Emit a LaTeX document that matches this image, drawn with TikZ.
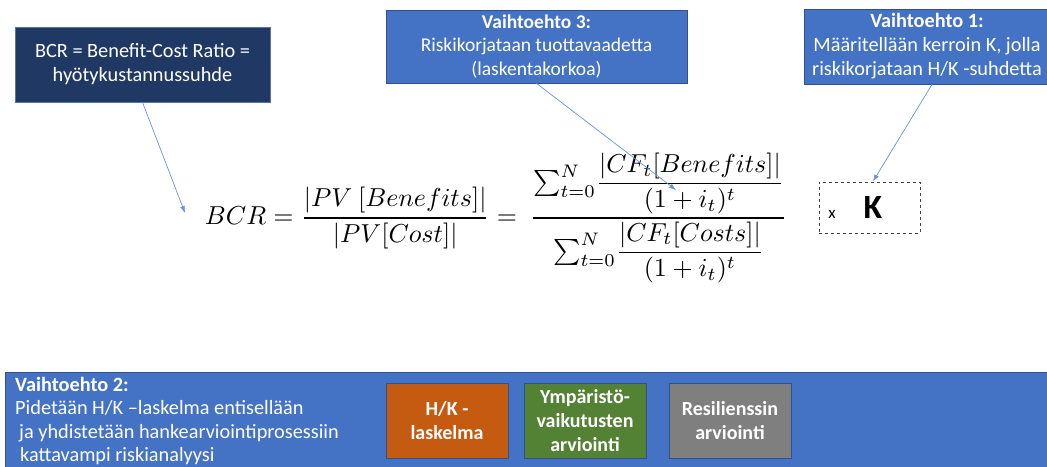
\documentclass[tikz,border=0pt]{standalone}
\usepackage{fontspec}
\setmainfont{Carlito}
\usepackage{amsmath}
\usetikzlibrary{arrows.meta}
\definecolor{navy}{HTML}{203864}
\definecolor{navyedge}{HTML}{5A74A8}
\definecolor{vblue}{HTML}{4472C4}
\definecolor{vedge}{HTML}{2F528F}
\definecolor{horange}{HTML}{C55A11}
\definecolor{hgreen}{HTML}{548235}
\definecolor{hgray}{HTML}{7F7F7F}
\definecolor{arrowblue}{HTML}{6A94DA}
\begin{document}
\begin{tikzpicture}[x=1pt,y=-1pt,
  box/.style={draw=vedge, line width=0.8pt, fill=vblue, text=white, align=center,
    inner sep=0pt, font=\fontsize{20.3}{24}\selectfont},
  inbox/.style={draw=vedge, line width=1pt, text=white, align=center,
    font=\bfseries\fontsize{20}{24}\selectfont, minimum width=122pt,
    minimum height=75pt, inner sep=0pt},
  pointer/.style={draw=arrowblue, line width=0.7pt, -{Latex[length=7pt,width=5pt]}}]
\clip (0,0) rectangle (1047,466);
\fill[white] (0,0) rectangle (1047,466);

% top boxes
\node[box, draw=navyedge, fill=navy, minimum width=255pt, minimum height=75pt] (bcr) at (142.5,64.5)
  {BCR = Benefit-Cost Ratio =\\hyötykustannussuhde};
\node[box, font=\fontsize{19.5}{23.5}\selectfont, minimum width=301pt, minimum height=73pt] (v3) at (536.5,46.5)
  {\textbf{Vaihtoehto 3:}\\Riskikorjataan tuottavaadetta\\(laskentakorkoa)};
\node[box, minimum width=246pt, minimum height=75pt] (v1) at (927,46.5)
  {\textbf{Vaihtoehto 1:}\\Määritellään kerroin K, jolla\\riskikorjataan H/K -suhdetta};

% formula
\node[inner sep=0pt] (formula) at (496,218) {\resizebox{582pt}{!}{$\displaystyle
  BCR=\frac{|PV\ [Benefits]|}{|PV[Cost]|}=\
  \frac{\sum_{t=0}^{N}\!\dfrac{|CF_t[Benefits]|}{(1+i_t)^t}}{\sum_{t=0}^{N}\!\dfrac{|CF_t[Costs]|}{(1+i_t)^t}}$}};

% K box
\node[draw=black!75, dashed, line width=1pt, minimum width=101pt, minimum height=51pt, inner sep=0pt] (kbox) at (869.5,207.5) {};
\node[inner sep=0pt, font=\fontsize{17}{17}\selectfont] (kx) at (832,214) {x};
\node[inner sep=0pt, font=\bfseries\fontsize{34}{34}\selectfont] (kk) at (873,207) {K};

% pointers
\coordinate (bcrtip) at (185,213);
\coordinate (v3tip) at (676,190);
\draw[pointer] (bcr.south) -- (bcrtip);
\draw[pointer] (v3.south) -- (v3tip);
\draw[pointer] ([xshift=5pt]v1.south) -- ([xshift=3.5pt]kbox.north);

% bottom band
\node[draw=vedge, line width=0.8pt, fill=vblue, minimum width=1060pt, minimum height=110pt, anchor=north west, inner sep=0pt] (v2) at (5,372) {};
\node[anchor=north west, align=left, text=white, inner sep=0pt, font=\fontsize{20.3}{23.4}\selectfont] (v2text) at (15,377)
  {\textbf{Vaihtoehto 2:}\\Pidetään H/K –laskelma entisellään\\\hspace{4pt}ja yhdistetään hankearviointiprosessiin\\\hspace{5pt}kattavampi riskianalyysi};
\node[inbox, fill=horange] (hk) at (447,420.5) {H/K -\\laskelma};
\node[inbox, fill=hgreen] (ymp) at (585,420.5) {Ympäristö-\\vaikutusten\\arviointi};
\node[inbox, fill=hgray] (res) at (730,420.5) {Resilienssin\\arviointi};
\end{tikzpicture}
\end{document}
